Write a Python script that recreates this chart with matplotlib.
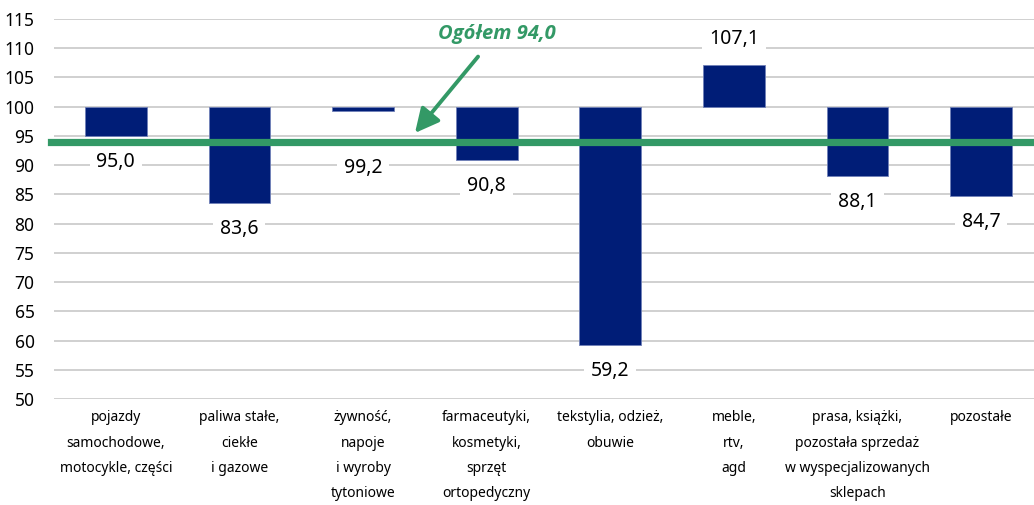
import matplotlib
matplotlib.use('Agg')
import matplotlib.pyplot as plt
from matplotlib import font_manager

plt.rcParams['font.family'] = ['Noto Sans', 'DejaVu Sans']

# ---------------------------------------------------------#
# Data                                                     #
# ---------------------------------------------------------#
categories = [
    'pojazdy\nsamochodowe,\nmotocykle, części',
    'paliwa stałe,\nciekłe\ni gazowe',
    'żywność,\nnapoje\ni wyroby\ntytoniowe',
    'farmaceutyki,\nkosmetyki,\nsprzęt\nortopedyczny',
    'tekstylia, odzież,\nobuwie',
    'meble,\nrtv,\nagd',
    'prasa, książki,\npozostała sprzedaż\nw wyspecjalizowanych\nsklepach',
    'pozostałe',
]
values = [95.0, 83.6, 99.2, 90.8, 59.2, 107.1, 88.1, 84.7]
base = 100
overall = 94.0
overall_label = 'Ogółem 94,0'
yticks = list(range(50, 116, 5))

bar_color = '#001D77'
green = '#339966'

# pick a family that really has a bold italic face for the annotation
bi_family = 'DejaVu Sans'
for fam in ['Noto Sans', 'Open Sans', 'Lato', 'Roboto', 'Liberation Sans']:
    for f in font_manager.fontManager.ttflist:
        if f.name == fam and f.style == 'italic' and f.weight in (700, 'bold'):
            bi_family = fam
            break
    if bi_family != 'DejaVu Sans':
        break

# ---------------------------------------------------------#
# Plot                                                     #
# ---------------------------------------------------------#
fig = plt.figure(figsize=(10.34, 5.05), dpi=100)
ax = fig.add_axes([0.0522, 0.2099, 0.9565, 0.7525])

x = list(range(len(values)))
heights = [v - base for v in values]
ax.bar(x, heights, bottom=base, width=0.5, color=bar_color,
       edgecolor='#7080b8', linewidth=0.6, zorder=2)

ax.axhline(overall, xmin=-0.003, color=green, linewidth=5.2, zorder=4,
           clip_on=False)

# value labels 26 px past the bar end, moved under the green line if they'd hit it
for xi, v in zip(x, values):
    if v > base:
        ly = v + 4.45
    else:
        ly = v - 4.45
        if ly > overall - 3:
            ly = overall - 4.5
    ax.text(xi, ly, f'{v:.1f}'.replace('.', ','), ha='center', va='center',
            fontsize=14, color='black', zorder=3,
            bbox=dict(boxstyle='square,pad=0.35', fc='white', ec='none'))

ax.annotate(overall_label, xy=(2.42, 95.5), xytext=(3.08, 112.4),
            ha='center', va='center', fontsize=14.5, color=green,
            family=bi_family, fontweight='bold', fontstyle='italic',
            arrowprops=dict(arrowstyle='-|>,head_length=1.0,head_width=0.5',
                            color=green, lw=2.8, shrinkA=9, shrinkB=0),
            zorder=5)

ax.set_xlim(-0.5, 7.5)
ax.set_ylim(50, 115)
ax.set_yticks(yticks)
ax.set_xticks(x)
ax.set_xticklabels(categories, fontsize=10, linespacing=1.95)
ax.yaxis.grid(True, color='#c4c4c4', linewidth=1.1, zorder=0)
ax.set_axisbelow(True)
ax.tick_params(axis='y', length=0, labelsize=12.5, pad=14)
ax.tick_params(axis='x', length=0, pad=8)
for s in ax.spines.values():
    s.set_visible(False)

fig.savefig('out.png', dpi=100)
